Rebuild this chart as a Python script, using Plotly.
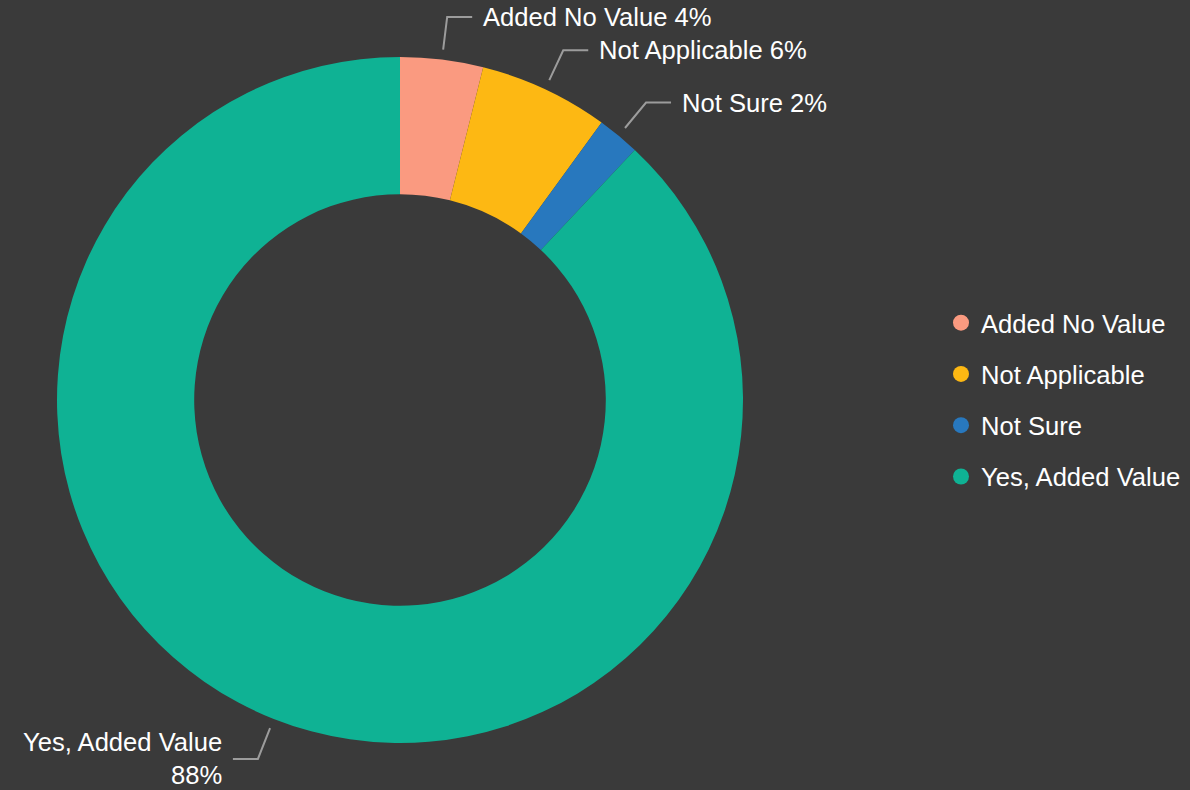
import math
import plotly.graph_objects as go

# ---- data ----
categories = ["Added No Value", "Not Applicable", "Not Sure", "Yes, Added Value"]
values = [3.9, 6.1, 2.0, 88.0]
colors = ["#FA9A80", "#FDB813", "#2878BE", "#0FB294"]

# ---- layout constants (pixels) ----
W, H = 1190, 790
CX, CY, R = 400, 400, 343
BG = "#3A3A3A"
FONT = "Liberation Sans, Arial, sans-serif"
FS = 25.6
LINE_COL = "#9C9C9C"

def px2paper(x, y):
    return x / W, 1 - y / H

x0, y1 = px2paper(CX - R, CY - R)
x1, y0 = px2paper(CX + R, CY + R)

fig = go.Figure()
fig.add_trace(go.Pie(
    labels=categories, values=values, hole=0.6, sort=False,
    direction="clockwise", rotation=0,
    marker=dict(colors=colors, line=dict(width=0)),
    textinfo="none", hoverinfo="label+percent", showlegend=False,
    domain=dict(x=[x0, x1], y=[y0, y1]),
))

# legend entries as circle markers
for i, (c, col) in enumerate(zip(categories, colors)):
    fig.add_trace(go.Scatter(
        x=[None], y=[None], mode="markers", name=c,
        marker=dict(symbol="circle", size=22, color=col),
        legendgroup=f"g{i}", showlegend=True, hoverinfo="skip",
    ))

# leader lines and labels computed from slice mid-angles
total = sum(values)
cum = 0.0
shapes = []
annotations = []
for c, v in zip(categories, values):
    mid = (cum + v / 2) / total * 2 * math.pi
    cum += v
    sx, sy = math.sin(mid), -math.cos(mid)
    r1, r2 = R + 10, R + 43
    ax, ay = CX + r1 * sx, CY + r1 * sy
    bx, by = CX + r2 * sx, CY + r2 * sy
    right = sx >= 0
    hx = bx + (25 if right else -25)
    p = [px2paper(ax, ay), px2paper(bx, by), px2paper(hx, by)]
    path = "M {} {} L {} {} L {} {}".format(p[0][0], p[0][1], p[1][0], p[1][1], p[2][0], p[2][1])
    shapes.append(dict(type="path", xref="paper", yref="paper", path=path,
                       line=dict(color=LINE_COL, width=2)))
    pct = round(v / total * 100)
    tx = hx + (9 if right else -9)
    txp, typ = px2paper(tx, by)
    if right:
        text = f"{c} {pct}%"
    else:
        text = f"{c}<br>{pct}%"
    annotations.append(dict(
        x=txp, y=typ, xref="paper", yref="paper", text=text, showarrow=False,
        xanchor="left" if right else "right", yanchor="middle",
        align="left" if right else "right",
        font=dict(family=FONT, size=FS, color="#FFFFFF"),
    ))

lx, ly = px2paper(941, 400)
fig.update_layout(
    width=W, height=H,
    margin=dict(l=0, r=0, t=0, b=0),
    paper_bgcolor=BG, plot_bgcolor=BG,
    font=dict(family=FONT, size=FS, color="#FFFFFF"),
    xaxis=dict(visible=False), yaxis=dict(visible=False),
    shapes=shapes, annotations=annotations,
    legend=dict(x=lx, y=ly, xanchor="left", yanchor="middle",
                font=dict(family=FONT, size=FS, color="#FFFFFF"),
                tracegroupgap=15, itemwidth=30, bgcolor="rgba(0,0,0,0)"),
)

fig.write_html("out.html", config={"displayModeBar": False},
               post_script="document.body.style.margin='0';document.body.style.background='#3A3A3A';")
